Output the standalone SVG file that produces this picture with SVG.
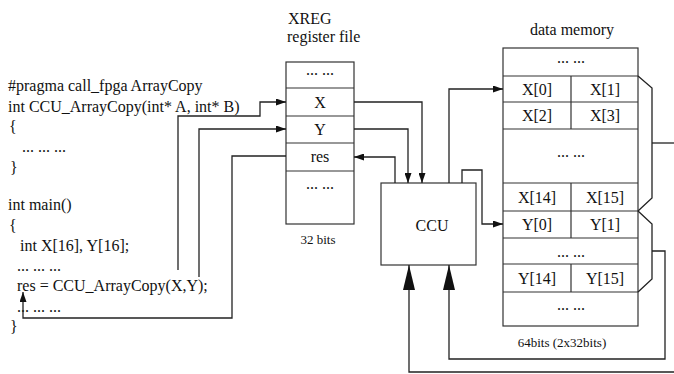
<svg xmlns="http://www.w3.org/2000/svg" width="674" height="374" viewBox="0 0 674 374">
  <style>
    text { font-family: "Liberation Serif", "Times New Roman", serif; font-size: 16px; fill: #111; }
    .small { font-size: 13px; }
    .mid { text-anchor: middle; }
    .box { fill: #fff; stroke: #333; stroke-width: 1.2; }
    .grid { fill: none; stroke: #333; stroke-width: 1.2; }
    .wire { fill: none; stroke: #222; stroke-width: 1.3; }
  </style>
  <defs>
    <marker id="arrow" markerWidth="10" markerHeight="7" refX="10" refY="3.5" orient="auto" markerUnits="userSpaceOnUse">
      <path d="M0,0 L10,3.5 L0,7 Z" fill="#111"/>
    </marker>
    <marker id="arrowBig" markerWidth="25" markerHeight="12" refX="25" refY="6" orient="auto" markerUnits="userSpaceOnUse">
      <path d="M0,0 L25,6 L0,12 Z" fill="#111"/>
    </marker>
  </defs>

  <rect width="674" height="374" fill="#fff"/>

  <!-- source code listing -->
  <g id="code">
    <text x="8" y="91">#pragma call_fpga ArrayCopy</text>
    <text x="8" y="111.5">int CCU_ArrayCopy(int* A, int* B)</text>
    <text x="9" y="132">{</text>
    <text x="22" y="152">... ... ...</text>
    <text x="10" y="173">}</text>
    <text x="8" y="210">int main()</text>
    <text x="9" y="230.5">{</text>
    <text x="20" y="251">int X[16], Y[16];</text>
    <text x="17" y="270.5">... ... ...</text>
    <text x="17" y="291">res = CCU_ArrayCopy(X,Y);</text>
    <text x="17" y="311.5">... ... ...</text>
    <text x="10" y="332">}</text>
  </g>

  <!-- XREG register file -->
  <g id="xreg">
    <text x="288" y="24">XREG</text>
    <text x="287" y="42">register file</text>
    <rect class="box" x="286" y="62" width="68" height="162"/>
    <path class="grid" d="M286,88 H354 M286,116 H354 M286,143 H354 M286,171 H354"/>
    <text class="mid" x="320" y="75">... ...</text>
    <text class="mid" x="320" y="107.5">X</text>
    <text class="mid" x="320" y="135">Y</text>
    <text class="mid" x="320" y="161.5">res</text>
    <text class="mid" x="320" y="189">... ...</text>
    <text class="mid small" x="318" y="244">32 bits</text>
  </g>

  <!-- custom compute unit -->
  <g id="ccu">
    <rect class="box" x="381" y="183" width="95" height="82"/>
    <text class="mid" x="432" y="231">CCU</text>
  </g>

  <!-- data memory -->
  <g id="memory">
    <text class="mid" x="572" y="35">data memory</text>
    <rect class="box" x="503" y="48" width="135" height="278"/>
    <path class="grid" d="M503,76 H638 M503,102 H638 M503,129 H638 M503,183 H638 M503,211 H638 M503,238 H638 M503,264 H638 M503,292 H638"/>
    <path class="grid" d="M571,76 V129 M571,183 V238 M571,264 V292"/>
    <text class="mid" x="571" y="63">... ...</text>
    <text class="mid" x="537" y="94.5">X[0]</text>
    <text class="mid" x="605" y="94.5">X[1]</text>
    <text class="mid" x="537" y="121">X[2]</text>
    <text class="mid" x="605" y="121">X[3]</text>
    <text class="mid" x="571" y="157">... ...</text>
    <text class="mid" x="537" y="202.5">X[14]</text>
    <text class="mid" x="605" y="202.5">X[15]</text>
    <text class="mid" x="537" y="230">Y[0]</text>
    <text class="mid" x="605" y="230">Y[1]</text>
    <text class="mid" x="571" y="257">... ...</text>
    <text class="mid" x="537" y="283.5">Y[14]</text>
    <text class="mid" x="605" y="283.5">Y[15]</text>
    <text class="mid" x="571" y="310">... ...</text>
    <text class="mid small" x="562" y="347">64bits (2x32bits)</text>
  </g>

  <!-- connectors -->
  <g id="connectors">
    <!-- arguments from the call site into XREG -->
    <polyline class="wire" points="178,270 178,116 260,116 260,102 286,102" marker-end="url(#arrow)"/>
    <polyline class="wire" points="199,277 199,129 286,129" marker-end="url(#arrow)"/>
    <!-- return value back to the call site -->
    <polyline class="wire" points="286,156 232,156 232,318 23,318 23,292" marker-end="url(#arrow)"/>
    <!-- XREG to CCU and back -->
    <polyline class="wire" points="354,102 422,102 422,183" marker-end="url(#arrow)"/>
    <polyline class="wire" points="354,129 408,129 408,183" marker-end="url(#arrow)"/>
    <polyline class="wire" points="395,183 395,157 354,157" marker-end="url(#arrow)"/>
    <!-- CCU addresses into data memory -->
    <polyline class="wire" points="449,183 449,89 503,89" marker-end="url(#arrow)"/>
    <polyline class="wire" points="462,183 462,170 482,170 482,224 503,224" marker-end="url(#arrow)"/>
    <!-- X block read-out -->
    <polyline class="wire" points="638,76 652,88 652,198 638,211"/>
    <polyline class="wire" points="652,143 674,143"/>
    <!-- Y block read-out back into CCU -->
    <polyline class="wire" points="638,211 652,224 652,279 638,292"/>
    <polyline class="wire" points="652,251 665,251 665,359 449,359 449,265" marker-end="url(#arrowBig)"/>
    <!-- external input into CCU -->
    <polyline class="wire" points="674,372 409,372 409,265" marker-end="url(#arrowBig)"/>
  </g>
</svg>
